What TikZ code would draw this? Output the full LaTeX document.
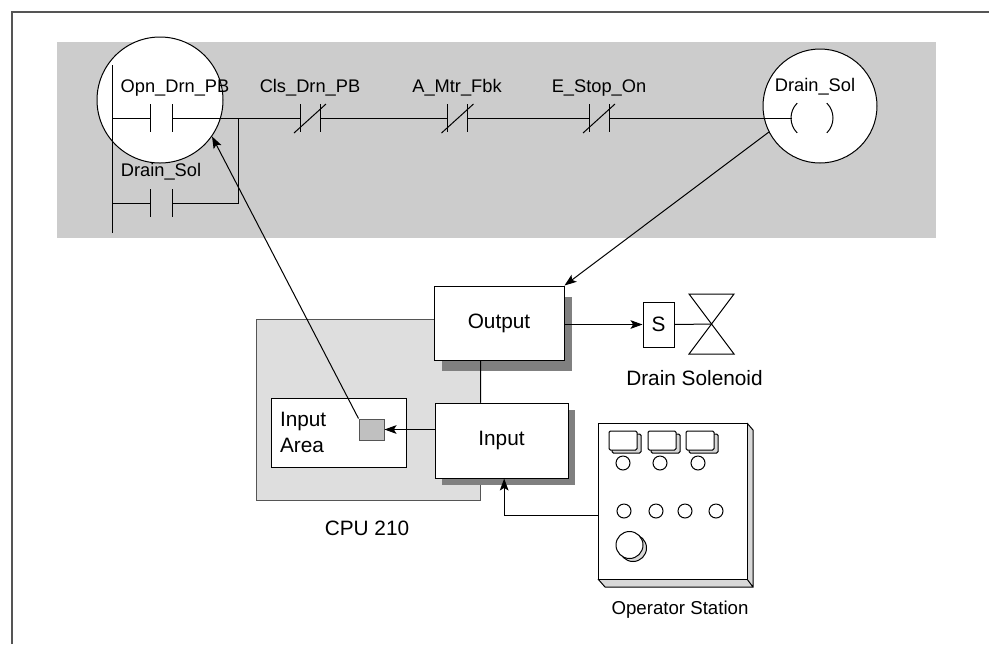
\documentclass[tikz,border=0pt]{standalone}
\usepackage{fontspec}
\setmainfont{Liberation Sans}
\usetikzlibrary{arrows.meta,shadows,calc}

\definecolor{bandgray}{HTML}{CCCCCC}
\definecolor{cpugray}{HTML}{DEDEDE}
\definecolor{edgegray}{HTML}{555555}
\definecolor{shadegray}{HTML}{808080}
\definecolor{cellgray}{HTML}{C0C0C0}
\definecolor{sidegray}{HTML}{D8D8D8}

\begin{document}
\begin{tikzpicture}[x=0.75pt,y=-0.75pt,line width=0.75pt,
  lbl/.style={font=\fontsize{13.7}{16}\selectfont,anchor=base,inner sep=0pt},
  txt/.style={font=\fontsize{15.6}{19.5}\selectfont},
  blk/.style 2 args={draw,fill=white,inner sep=0pt,minimum width=#1,minimum height=#2},
  shade/.style 2 args={drop shadow={shadow xshift=#1,shadow yshift=#2,fill=shadegray,opacity=1}},
  lens/.style={circle,draw,fill=white,inner sep=0pt,minimum size=#1},
  arr/.style={-{Stealth[length=9pt,width=6.5pt,inset=2pt]}},
  ncontact/.pic={
    \draw (-10,-14) -- (-10,14) (10,-14) -- (10,14);
    \draw (-16,15) -- (16,-14);
  },
  nocontact/.pic={
    \draw (-11,-14) -- (-11,14) (11,-14) -- (11,14);
  }]
\useasboundingbox (0,0) rectangle (989,644);

% page frame (top and left edges)
\draw[edgegray,line width=1.5pt] (12,644) -- (12,12) -- (989,12);

% ladder background band
\fill[bandgray] (57,42) rectangle (936,238);

% magnifier circles
\node[lens=94.5pt] (lc) at (160,100) {};
\node[lens=85.5pt] (rc) at (820,106) {};

% ladder rung
\draw (112,65) -- (112,233);
\draw (112,118) -- (150,118) (172,118) -- (300,118) (320,118) -- (447,118)
      (468,118) -- (589,118) (609,118) -- (792,118);
\draw (112,203) -- (150,203) (172,203) -- (238,203) -- (238,118);
\pic at (161,118) {nocontact};
\pic at (161,203) {nocontact};
\pic at (310,118) {ncontact};
\pic at (457.5,118) {ncontact};
\pic at (599,118) {ncontact};
% output coil
\draw (812,118) ++(135:21) arc[start angle=135,end angle=225,radius=21];
\draw (812,118) ++(-45:21) arc[start angle=-45,end angle=45,radius=21];

\node[lbl] (l1) at (175,92) {Opn\_Drn\_PB};
\node[lbl] (l2) at (161,176) {Drain\_Sol};
\node[lbl] (l3) at (310,92) {Cls\_Drn\_PB};
\node[lbl] (l4) at (457,92) {A\_Mtr\_Fbk};
\node[lbl] (l5) at (599,92) {E\_Stop\_On};
\node[lbl] (l6) at (815,91) {Drain\_Sol};

% CPU module
\node[draw=edgegray,fill=cpugray,minimum width=168pt,minimum height=135.75pt,inner sep=0pt] (cpu) at (368,409.5) {};
\node[txt] (cpulbl) at (367,528) {CPU 210};
\node[blk={101.25pt}{51.75pt},txt,align=left,text width=87.75pt,inner xsep=6.75pt] (ia) at (338.5,432.5) {Input\\Area};
\node[draw=edgegray,fill=cellgray,inner sep=0pt,minimum width=18.75pt,minimum height=15.75pt] (sq) at (371.5,429.5) {};
\node[blk={97.5pt}{55.5pt},txt,shade={6pt}{-8pt}] (out) at (499,323) {Output};
\node[blk={99.75pt}{56.25pt},txt,shade={5.5pt}{-5.5pt}] (inp) at (501.5,440.5) {Input};

% solenoid valve
\node[blk={23.25pt}{33.75pt},txt] (sol) at (658.5,324.5) {S};
\coordinate (vc) at (711.5,324);
\draw (689,294) -- (734,294) -- (689,354) -- (734,354) -- cycle;
\node[txt,anchor=base,inner sep=0pt] (sollbl) at (694.5,385) {Drain Solenoid};

% operator station panel
\fill[sidegray] (747,423) -- (753,430) -- (753,587) -- (605,587) -- (598,579) -- (747,579) -- cycle;
\draw (747,423) -- (753,430) -- (753,587) -- (605,587) -- (598,579) (747,579) -- (753,587);
\node[blk={111.75pt}{117pt}] (ops) at (672.5,501) {};
\foreach \bx in {609,648,686} {
  \filldraw[fill=sidegray,rounded corners=1pt] (\bx+3,434) rectangle (\bx+32,453);
  \filldraw[fill=white,rounded corners=1pt] (\bx,431) rectangle (\bx+28,450);
}
\foreach \cx in {623,660,698} \draw (\cx,463) circle[radius=7];
\foreach \cx in {624,656,685,716} \draw (\cx,511) circle[radius=7];
\filldraw[fill=sidegray] (633,548) circle[radius=13.5];
\filldraw[fill=white] (629.5,545) circle[radius=13.5];
\node[font=\fontsize{14}{17}\selectfont] (opslbl) at (680,610) {Operator Station};

% signal connections
\draw[arr] (rc.207) -- (out.north east);
\draw ($(out.south west)!0.36!(out.south east)$) -- ($(inp.north west)!0.345!(inp.north east)$);
\draw[arr] (sq.east -| inp.west) -- (sq.east);
\draw[arr] (sq.north west) -- (lc.325);
\draw[arr] (out.east |- sol.west) -- (sol.west);
\draw (sol.east) -- (vc);
\draw[arr] ([yshift=-11pt]ops.west) -| ([xshift=2pt]inp.south);
\end{tikzpicture}
\end{document}
